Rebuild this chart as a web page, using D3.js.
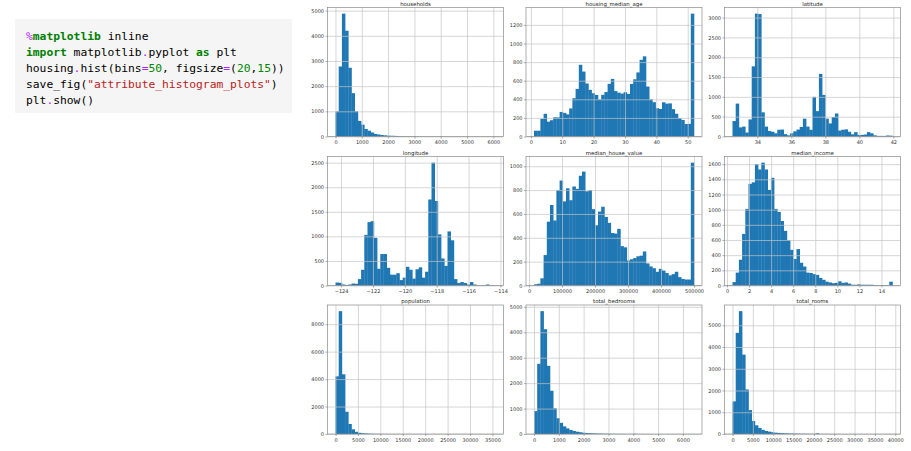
<!DOCTYPE html>
<html><head><meta charset="utf-8">
<script src="https://cdn.jsdelivr.net/npm/d3@7"></script>
<style>body{margin:0;background:#fff;} svg{display:block}</style>
</head><body><svg id="chart" width="911" height="451"></svg>
<script>
// ---- data ----
const panelNames = ["households","housing_median_age","latitude","longitude","median_house_value","median_income","population","total_bedrooms","total_rooms"];
const binMin = [1, 1, 32.54, -124.35, 14999, 0.4999, 3, 1, 2];
const binMax = [6082, 52, 41.95, -114.31, 500001, 15.0001, 35682, 6445, 39320];

const households = [1000,2780,4880,4200,2730,1720,1000,620,470,300,230,160,100,80,60,45,35,30,25,20,15,12,10,8,6,5,4,3,3,2,2,1,1,1,1,1,0,0,1,0,0,0,0,0,0,0,0,0,0,1];
const housingMedianAge = [62,62,191,244,160,175,206,205,264,254,238,302,412,512,771,698,570,502,465,446,399,448,478,566,619,488,471,461,476,458,565,615,689,824,862,537,399,369,304,296,368,353,356,294,245,198,177,134,136,1321];
const latitude = [390,830,230,250,100,430,1770,3100,3090,610,250,140,120,80,170,175,60,30,80,130,175,240,450,250,170,1000,640,1580,1050,450,330,490,580,150,170,180,120,55,110,40,40,50,110,80,30,15,15,15,25,20];
const longitude = [60,55,20,10,20,40,35,130,320,1030,1290,1310,970,340,640,640,360,220,220,250,110,160,380,320,140,330,370,160,280,1750,2500,1720,1040,550,400,1100,920,130,50,70,50,20,70,20,5,5,5,20,5,5];
const medianHouseValue = [10,15,60,255,535,675,545,800,880,705,815,715,830,810,920,955,790,800,640,505,620,660,575,525,440,435,475,330,320,210,220,230,245,250,285,185,160,145,115,140,125,105,85,95,115,70,55,50,50,1030];
const medianIncome = [45,170,340,680,1010,1340,1360,1600,1530,1620,1530,1260,1420,1010,970,850,720,600,470,350,480,300,250,170,165,150,140,100,75,50,40,30,35,55,35,40,25,10,10,15,10,10,10,10,5,5,5,5,5,50];
const population = [4200,8950,4350,1620,730,340,160,90,60,40,25,15,10,8,5,4,3,2,2,1,1,1,1,0,0,0,0,1,0,0,0,0,0,0,0,0,0,0,0,0,0,0,0,0,0,0,0,0,0,1];
const totalBedrooms = [900,2760,4830,4120,2680,1700,1010,620,440,300,220,160,120,90,70,50,40,30,25,20,15,12,10,8,6,5,4,3,3,2,2,10,1,1,1,1,0,0,0,0,0,0,0,0,0,0,0,0,0,1];
const totalRooms = [1500,4650,5650,3650,2050,1100,600,400,280,190,140,110,80,60,50,40,30,25,20,18,15,12,10,8,6,5,30,4,3,2,2,1,1,1,1,0,0,0,0,0,0,0,0,0,0,0,0,0,0,1];

const xTicks = [
  [0,1000,2000,3000,4000,5000,6000],
  [0,10,20,30,40,50],
  [34,36,38,40,42],
  [-124,-122,-120,-118,-116,-114],
  [0,100000,200000,300000,400000,500000],
  [0,2,4,6,8,10,12,14],
  [0,5000,10000,15000,20000,25000,30000,35000],
  [0,1000,2000,3000,4000,5000,6000],
  [0,5000,10000,15000,20000,25000,30000,35000,40000]
];
const yTicks = [
  [0,1000,2000,3000,4000,5000],
  [0,200,400,600,800,1000,1200],
  [0,500,1000,1500,2000,2500,3000],
  [0,500,1000,1500,2000,2500],
  [0,200,400,600,800,1000],
  [0,200,400,600,800,1000,1200,1400,1600],
  [0,2000,4000,6000,8000],
  [0,1000,2000,3000,4000,5000],
  [0,1000,2000,3000,4000,5000]
];
const counts = [households, housingMedianAge, latitude, longitude, medianHouseValue, medianIncome, population, totalBedrooms, totalRooms];

const codeLines = [
  [["%","#aa22ff",false],["matplotlib","#008000",true],[" inline","#000",false]],
  [["import","#008000",true],[" matplotlib","#000",false],[".","#aa22ff",false],["pyplot ","#000",false],["as","#008000",true],[" plt","#000",false]],
  [["housing","#000",false],[".","#aa22ff",false],["hist(bins","#000",false],["=","#aa22ff",false],["50","#008800",false],[", figsize","#000",false],["=","#aa22ff",false],["(","#000",false],["20","#008800",false],[",","#000",false],["15","#008800",false],["))","#000",false]],
  [["save_fig(","#000",false],["\"attribute_histogram_plots\"","#ba2121",false],[")","#000",false]],
  [["plt","#000",false],[".","#aa22ff",false],["show()","#000",false]]
];

// ---- layout ----
const svg = d3.select("#chart");
const colLeft = [327.5, 526, 724.5];
const rowTop = [7.5, 156.5, 305];
const pw = 176, ph = 129;

// code cell
svg.append("rect").attr("x",15).attr("y",19).attr("width",277).attr("height",94).attr("fill","#f5f5f5");
const codeG = svg.append("g");
codeLines.forEach((line,i)=>{
  const t = codeG.append("text").attr("x",26).attr("y",39.5+i*16)
    .attr("font-family","DejaVu Sans Mono, Liberation Mono, monospace").attr("font-size","11.3px")
    .attr("xml:space","preserve").style("white-space","pre");
  line.forEach(([s,c,b])=>{
    t.append("tspan").attr("fill",c).attr("font-weight",b?"bold":"normal").text(s);
  });
});

const fmt = d => d < 0 ? "\u2212" + Math.abs(d) : String(d);

counts.forEach((vals, i) => {
  const left = colLeft[i % 3], top = rowTop[Math.floor(i/3)];
  const g = svg.append("g").attr("transform", `translate(${left},${top})`);
  const lo = binMin[i], hi = binMax[i], span = hi - lo;
  const bw = span / vals.length;
  const x = d3.scaleLinear().domain([lo - 0.05*span, hi + 0.05*span]).range([0, pw]);
  const ymax = d3.max(vals) * 1.05;
  const y = d3.scaleLinear().domain([0, ymax]).range([ph, 0]);

  g.append("g").selectAll("rect").data(vals).join("rect")
    .attr("x", (d,k) => x(lo + k*bw))
    .attr("width", (d,k) => x(lo + (k+1)*bw) - x(lo + k*bw) + 0.3)
    .attr("y", d => y(d))
    .attr("height", d => ph - y(d))
    .attr("fill", "#1f77b4");

  // grid
  const gx = g.append("g").attr("transform", `translate(0,${ph})`)
    .call(d3.axisBottom(x).tickValues(xTicks[i]).tickSize(-ph).tickFormat(""));
  const gy = g.append("g")
    .call(d3.axisLeft(y).tickValues(yTicks[i]).tickSize(-pw).tickFormat(""));
  [gx, gy].forEach(a => {
    a.select(".domain").remove();
    a.selectAll("line").attr("stroke", "#c4c4c4").attr("stroke-width", 0.7);
  });

  // frame
  g.append("rect").attr("width", pw).attr("height", ph).attr("fill", "none")
    .attr("stroke", "#8a8a8a").attr("stroke-width", 0.7);

  // axes
  const ax = g.append("g").attr("transform", `translate(0,${ph})`)
    .call(d3.axisBottom(x).tickValues(xTicks[i]).tickSize(2).tickPadding(2).tickFormat(fmt));
  const ay = g.append("g")
    .call(d3.axisLeft(y).tickValues(yTicks[i]).tickSize(2).tickPadding(1.5).tickFormat(fmt));
  [ax, ay].forEach(a => {
    a.select(".domain").remove();
    a.selectAll("line").attr("stroke", "#777").attr("stroke-width", 0.6);
    a.selectAll("text").attr("font-family", "DejaVu Sans, sans-serif").attr("font-size", "5px").attr("fill", "#333");
  });

  g.append("text").attr("x", pw/2).attr("y", -2).attr("text-anchor", "middle")
    .attr("font-family", "DejaVu Sans, sans-serif").attr("font-size", "5.4px").attr("fill", "#222")
    .text(panelNames[i]);
});
</script></body></html>
